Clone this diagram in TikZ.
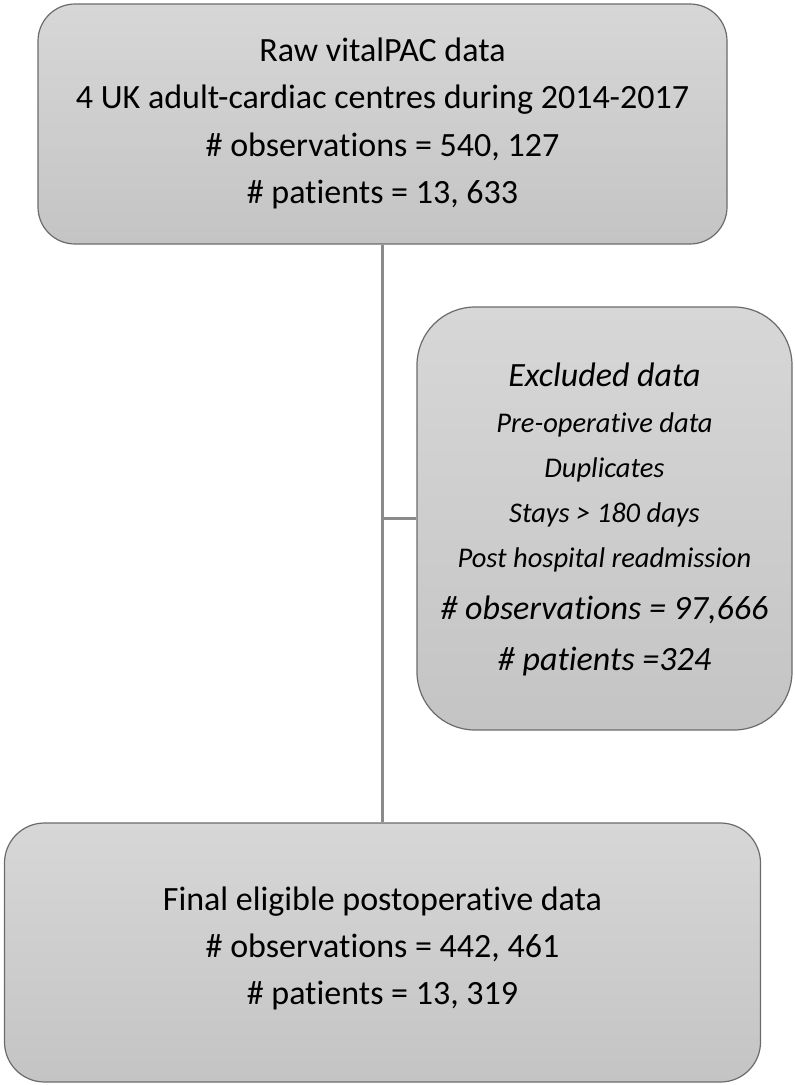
\documentclass[tikz,border=0pt]{standalone}
\usepackage{fontspec}
\setmainfont{Carlito}[RawFeature={-liga;-clig;-dlig}]
\definecolor{boxtop}{HTML}{D7D7D7}
\definecolor{boxbot}{HTML}{C4C4C4}
\definecolor{boxline}{HTML}{6B6B6B}
\definecolor{conn}{HTML}{8A8A8A}
\begin{document}
\begin{tikzpicture}[x=1pt,y=-1pt,
  flowbox/.style={draw=boxline, line width=1.2pt, top color=boxtop, bottom color=boxbot, inner sep=0pt},
  bigtxt/.style={anchor=base, inner sep=0pt, font=\fontsize{34}{40}\selectfont},
  bigit/.style={anchor=base, inner sep=0pt, font=\fontsize{34}{40}\selectfont\itshape},
  smallit/.style={anchor=base, inner sep=0pt, font=\fontsize{28.5}{34}\selectfont\itshape},
  connector/.style={draw=conn, line width=2.5pt}]
\useasboundingbox (0,0) rectangle (795,1085);
% boxes
\node[flowbox, rounded corners=37pt, minimum width=689pt, minimum height=240pt] (top) at (382.5,124) {};
\node[flowbox, rounded corners=58pt, minimum width=375pt, minimum height=423pt] (mid) at (604.5,518.5) {};
\node[flowbox, rounded corners=40pt, minimum width=756pt, minimum height=259pt] (bot) at (382.5,952.5) {};
% connectors
\draw[connector] (top.south) -- (bot.north);
\coordinate (junc) at (top.south |- mid.west);
\draw[connector] (junc) -- (mid.west);
% top text
\node[bigtxt] (t1) at (382.5,61) {Raw vitalPAC data};
\node[bigtxt] (t2) at (382.5,108) {4 UK adult-cardiac centres during 2014-2017};
\node[bigtxt] (t3) at (382.5,156) {\# observations = 540, 127};
\node[bigtxt] (t4) at (382.5,203) {\# patients = 13, 633};
% middle text
\node[bigit] (m1) at (604.5,386) {Excluded data};
\node[smallit] (m2) at (604.5,432) {Pre-operative data};
\node[smallit] (m3) at (604.5,477) {Duplicates};
\node[smallit] (m4) at (604.5,522) {Stays > 180 days};
\node[smallit] (m5) at (604.5,567) {Post hospital readmission};
\node[bigit] (m6) at (604.5,619) {\# observations = 97,666};
\node[bigit] (m7) at (604.5,670) {\# patients =324};
% bottom text
\node[bigtxt] (b1) at (382.5,910) {Final eligible postoperative data};
\node[bigtxt] (b2) at (382.5,957) {\# observations = 442, 461};
\node[bigtxt] (b3) at (382.5,1004) {\# patients = 13, 319};
\end{tikzpicture}
\end{document}
